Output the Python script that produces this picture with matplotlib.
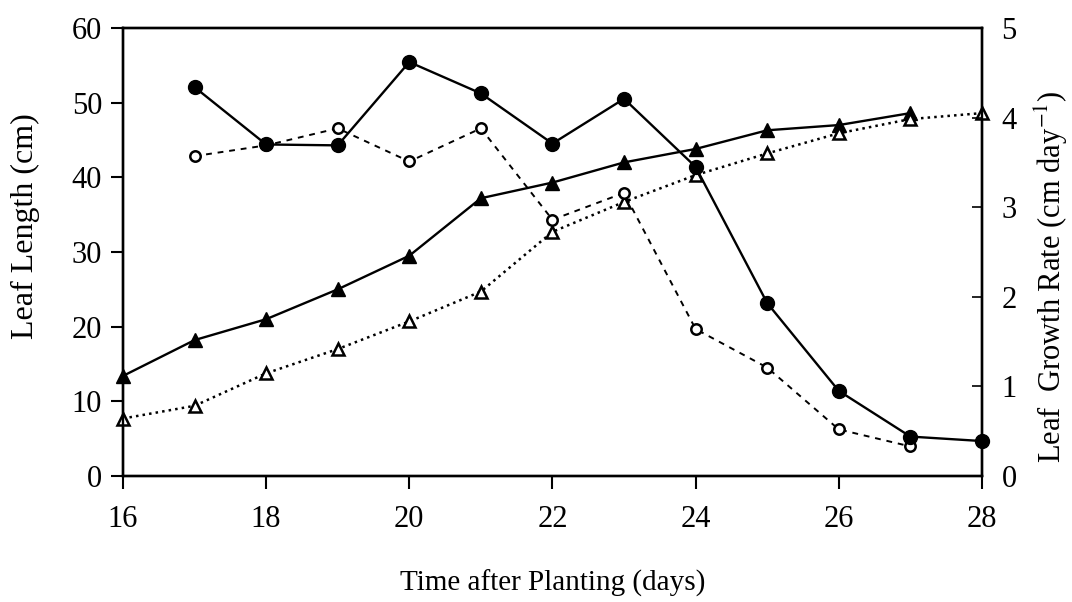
import numpy as np
import matplotlib
matplotlib.use('Agg')
import matplotlib.pyplot as plt

plt.rcParams['font.family'] = ['Liberation Serif', 'DejaVu Serif']
plt.rcParams['mathtext.fontset'] = 'stix'

# leaf length (cm), left axis
days_len = [16, 17, 18, 19, 20, 21, 22, 23, 24, 25, 26, 27]
length_a = [13.4, 18.2, 21.0, 25.0, 29.5, 37.2, 39.3, 42.0, 43.8, 46.3, 47.0, 48.6]
days_len_b = [16, 17, 18, 19, 20, 21, 22, 23, 24, 25, 26, 27, 28]
length_b = [7.7, 9.4, 13.75, 17.0, 20.7, 24.7, 32.7, 36.7, 40.3, 43.2, 45.9, 47.8, 48.6]

# leaf growth rate (cm/day), right axis
days_rate = [17, 18, 19, 20, 21, 22, 23, 24, 25, 26, 27, 28]
rate_a = [4.34, 3.70, 3.69, 4.62, 4.27, 3.71, 4.21, 3.45, 1.93, 0.95, 0.44, 0.39]
days_rate_b = [17, 18, 19, 20, 21, 22, 23, 24, 25, 26, 27]
rate_b = [3.57, 3.69, 3.88, 3.51, 3.88, 2.86, 3.16, 1.64, 1.21, 0.52, 0.33]

fig = plt.figure(figsize=(10.72, 6.02), dpi=100)
ax = fig.add_axes([0.1147, 0.2093, 0.8013, 0.7442])
ax2 = ax.twinx()

ax.plot(days_len, length_a, '-', color='black', lw=1.7, marker='^', ms=10, mfc='black',
        zorder=3, clip_on=False)
ax.plot(days_len_b, length_b, ':', color='black', lw=1.8, marker='^', ms=8, mfc='white',
        mew=1.8, zorder=3, clip_on=False)
ax2.plot(days_rate_b, rate_b, color='black', lw=1.4, ls=(0, (3, 3)), marker='o', ms=7.5,
         mfc='white', mew=1.8, zorder=3, clip_on=False)
ax2.plot(days_rate, rate_a, '-', color='black', lw=1.7, marker='o', ms=10, mfc='black',
         zorder=4, clip_on=False)

ax.set_xlim(16, 28)
ax.set_ylim(0, 60)
ax2.set_ylim(0, 5)
ax.set_xticks(np.arange(16, 29, 2))
ax.set_yticks(np.arange(0, 61, 10))
ax2.set_yticks(np.arange(0, 6, 1))

for a in (ax, ax2):
    for s in a.spines.values():
        s.set_linewidth(1.7)
ax.tick_params(axis='both', direction='out', length=9, width=1.5, labelsize=22)
ax.tick_params(axis='y', pad=6)
ax.tick_params(axis='x', pad=12)
ax2.tick_params(axis='y', direction='in', length=7, width=1.2, labelsize=22, pad=14)

ax.set_xlabel('Time after Planting (days)', fontsize=21)
ax.set_ylabel('Leaf Length (cm)', fontsize=23)
ax2.set_ylabel('Leaf  Growth Rate (cm day$^{-1}$)', fontsize=22)
ax.xaxis.set_label_coords(0.5, -0.239)
ax.yaxis.set_label_coords(-0.114, 0.558)
ax2.yaxis.set_label_coords(1.081, 0.444)
ax2.yaxis.label.set_verticalalignment('center')
ax.yaxis.label.set_verticalalignment('center')
ax.xaxis.label.set_verticalalignment('center')

fig.savefig('out.png', dpi=100)
